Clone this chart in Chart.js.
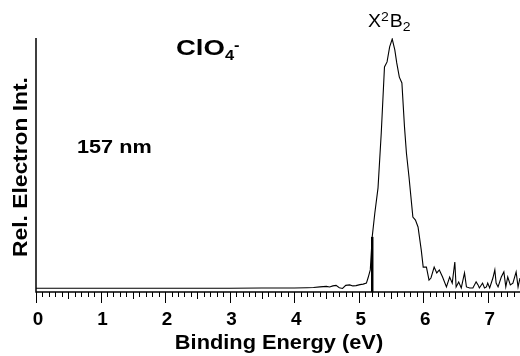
<!DOCTYPE html>
<html>
<head>
<meta charset="utf-8">
<script src="https://cdn.jsdelivr.net/npm/chart.js@4.4.0/dist/chart.umd.min.js"></script>
<style>
  html, body { margin: 0; padding: 0; background: #fff; }
  #wrap { width: 520px; height: 356px; position: relative; }
</style>
</head>
<body>
<div id="wrap"><canvas id="pesChart"></canvas></div>
<script>
// binding energy (eV) and relative electron intensity
var energy = [0, 0.5, 1, 1.5, 2, 2.5, 3, 3.5, 4, 4.2, 4.3, 4.4, 4.5, 4.55, 4.6, 4.65, 4.7, 4.75, 4.8, 4.86, 4.91, 4.96, 5.02, 5.07, 5.12, 5.145, 5.18, 5.21,
  5.25, 5.3, 5.35, 5.4, 5.44, 5.48, 5.52, 5.56, 5.59, 5.63, 5.67, 5.71, 5.74, 5.78, 5.84, 5.88, 5.92, 5.97, 6.0, 6.05, 6.09, 6.12,
  6.17, 6.21, 6.25, 6.3, 6.36, 6.41, 6.45, 6.49, 6.51, 6.55, 6.59, 6.64, 6.67, 6.72, 6.77, 6.82, 6.85, 6.87, 6.92, 6.95, 6.98, 7.0,
  7.03, 7.08, 7.11, 7.13, 7.16, 7.21, 7.25, 7.28, 7.31, 7.35, 7.39, 7.44, 7.47, 7.5];
var intensity = [1.5, 1.5, 1.5, 1.5, 1.5, 1.5, 1.5, 1.6, 1.6, 1.7, 1.8, 2.0, 2.2, 2.0, 2.4, 2.6, 1.7, 1.4, 2.6, 2.8, 2.4, 2.5, 2.9, 3.1, 3.5, 5.5, 8.7, 21.7,
  31, 41, 62.6, 88.6, 90.6, 96.5, 99.6, 95.3, 90.2, 84.6, 82.3, 65, 54.7, 45.3, 29.5, 28.3, 25.6, 16.5, 9.8, 9.8, 4.7, 5.5,
  9.8, 7.5, 8.7, 5.9, 2.0, 5.9, 3.5, 11.8, 2.0, 3.9, 1.6, 7.5, 2.0, 1.6, 1.6, 4.0, 2.8, 1.6, 3.5, 1.6, 2.0, 3.5,
  1.6, 5.5, 8.7, 3.5, 2.0, 5.9, 7.9, 2.0, 5.9, 2.8, 3.5, 7.9, 2.0, 5.5];
// detachment threshold marker (thick vertical stroke)
var thresholdEnergy = [5.21, 5.21];
var thresholdIntensity = [0, 21.7];
var majorTicks = [0, 1, 2, 3, 4, 5, 6, 7];

var FONT = 'Arial, "Liberation Sans", Helvetica, sans-serif';

function toPoints(xs, ys) {
    return xs.map(function (x, i) { return { x: x, y: ys[i] }; });
}

// draw text stretched horizontally (the original uses a wide Helvetica)
function wideText(ctx, text, x, y, font, sx, align, rot) {
    ctx.save();
    ctx.font = font;
    ctx.textAlign = align || 'left';
    ctx.translate(x, y);
    if (rot) ctx.rotate(rot);
    ctx.scale(sx, 1);
    ctx.fillText(text, 0, 0);
    var w = ctx.measureText(text).width * sx;
    ctx.restore();
    return w;
}

var axesPlugin = {
    id: 'pesAxes',
    afterDraw: function (chart) {
        var ctx = chart.ctx;
        var xs = chart.scales.x;
        var area = chart.chartArea;
        ctx.save();
        ctx.strokeStyle = '#000';
        ctx.lineWidth = 1.5;
        // axis lines
        ctx.beginPath();
        ctx.moveTo(area.left, area.top);
        ctx.lineTo(area.left, area.bottom);
        ctx.lineTo(area.right, area.bottom);
        ctx.stroke();
        // ticks every 0.1 eV
        ctx.lineWidth = 1;
        for (var i = 0; i <= 75; i++) {
            var px = Math.round(xs.getPixelForValue(i / 10)) + 0.5;
            var len = (i % 10 === 0) ? 11 : (i % 5 === 0 ? 7 : 5);
            ctx.beginPath();
            ctx.moveTo(px, area.bottom);
            ctx.lineTo(px, area.bottom + len);
            ctx.stroke();
        }
        ctx.fillStyle = '#000';
        ctx.textBaseline = 'alphabetic';
        // tick labels
        majorTicks.forEach(function (t) {
            wideText(ctx, String(t), xs.getPixelForValue(t) + 2, 325, 'bold 18px ' + FONT, 1.05, 'center');
        });
        // axis titles
        wideText(ctx, 'Binding Energy (eV)', 279, 349, 'bold 20px ' + FONT, 1.09, 'center');
        wideText(ctx, 'Rel. Electron Int.', 27, 167, 'bold 20px ' + FONT, 1.14, 'center', -Math.PI / 2);
        // annotations
        var w = wideText(ctx, 'ClO', 176, 55, 'bold 22px ' + FONT, 1.25, 'left');
        wideText(ctx, '4', 176 + w, 60, 'bold 15px ' + FONT, 1.1, 'left');
        wideText(ctx, '-', 176 + w + 9, 50, 'bold 15px ' + FONT, 1.1, 'left');
        wideText(ctx, '157 nm', 77, 153, 'bold 19px ' + FONT, 1.14, 'left');
        // band label X2B2
        var x0 = 368, y0 = 27;
        var wx = wideText(ctx, 'X', x0, y0, '18px ' + FONT, 1.08, 'left');
        var w2 = wideText(ctx, '2', x0 + wx, y0 - 6, '13px ' + FONT, 1.08, 'left');
        var wb = wideText(ctx, 'B', x0 + wx + w2 + 1, y0, '18px ' + FONT, 1.08, 'left');
        wideText(ctx, '2', x0 + wx + w2 + 1 + wb, y0 + 4, '13px ' + FONT, 1.08, 'left');
        ctx.restore();
    }
};

new Chart(document.getElementById('pesChart'), {
    type: 'scatter',
    data: {
        datasets: [
            {
                label: 'spectrum',
                data: toPoints(energy, intensity),
                showLine: true,
                borderColor: '#000',
                borderWidth: 1.1,
                pointRadius: 0,
                tension: 0
            },
            {
                label: 'threshold',
                data: toPoints(thresholdEnergy, thresholdIntensity),
                showLine: true,
                borderColor: '#000',
                borderWidth: 2.5,
                pointRadius: 0
            }
        ]
    },
    options: {
        responsive: true,
        maintainAspectRatio: false,
        animation: false,
        layout: { padding: { left: 36, right: 0, top: 38, bottom: 64 } },
        plugins: {
            legend: { display: false },
            tooltip: { enabled: false }
        },
        scales: {
            x: { type: 'linear', min: 0, max: 7.5, display: false },
            y: { type: 'linear', min: 0, max: 100, display: false }
        }
    },
    plugins: [axesPlugin]
});
</script>
</body>
</html>
